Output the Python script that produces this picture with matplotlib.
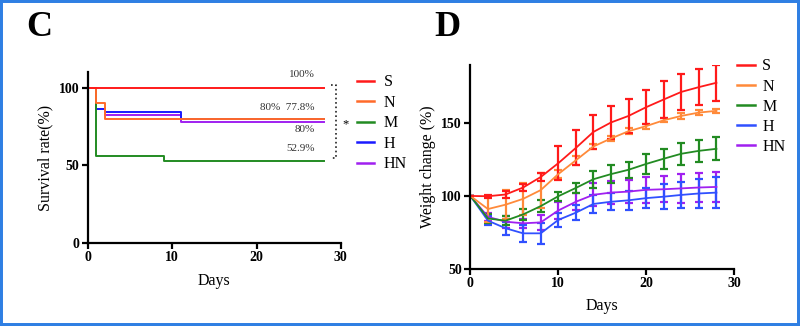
import numpy as np
import matplotlib
matplotlib.use("Agg")
import matplotlib.pyplot as plt
from matplotlib.lines import Line2D
from matplotlib.patches import Rectangle

plt.rcParams["font.family"] = ["Liberation Serif", "DejaVu Serif"]

GROUPS = ["S", "N", "M", "H", "HN"]
COLORS_C = ["#FF1A1A", "#FF6A2A", "#228B22", "#1A1AFF", "#A020F0"]
COLORS_D = ["#FF1A1A", "#FF8A3A", "#228B22", "#3050FF", "#A020F0"]

# survival (Kaplan-Meier steps)
surv_t = {
    "S":  [0, 28],
    "N":  [0, 1, 2, 28],
    "M":  [0, 1, 9, 28],
    "H":  [0, 1, 2, 11, 28],
    "HN": [0, 1, 2, 11, 28],
}
surv_v = {
    "S":  [100, 100],
    "N":  [100, 90, 80, 80],
    "M":  [100, 56, 52.9, 52.9],
    "H":  [100, 86.5, 84.5, 80, 80],
    "HN": [100, 86.5, 82.5, 77.8, 77.8],
}
surv_labels = ["100%", "80%  77.8%", "80%", "52.9%"]
surv_label_y = [108.4, 87.3, 72.9, 60.6]

# weight change
days = [0, 2, 4, 6, 8, 10, 12, 14, 16, 18, 20, 22, 24, 26, 28]
w_mean = {
    "S":  [100, 99.8, 101, 105.8, 113, 122.5, 133, 144, 150.5, 155, 161, 166.3, 171.5, 174.8, 177.8],
    "N":  [100, 91, 94, 98, 104, 115, 124.5, 134, 139.5, 144.5, 148, 152, 155, 157.3, 158.5],
    "M":  [100, 84.5, 83, 87.3, 93, 99.8, 105.5, 111.5, 115, 118, 122, 125.6, 129, 131, 132.4],
    "H":  [100, 83, 77.8, 74.3, 74.3, 83.5, 88.5, 94.5, 96, 97, 98.5, 99.5, 100.7, 101.7, 102.3],
    "HN": [100, 85.6, 82.3, 81.2, 81.8, 90, 96, 100.8, 102.3, 103, 104.2, 104.6, 105.2, 105.8, 106.2],
}
w_err = {
    "S":  [0, 1, 2.5, 2.7, 3, 11.8, 12, 11.6, 11.5, 11.8, 11.6, 12.6, 12.5, 12.5, 12.3],
    "N":  [0, 9, 10, 11, 12, 3, 3, 2, 2, 2, 1.7, 1.5, 2, 2, 1.6],
    "M":  [0, 3, 3, 4, 4, 3, 3.4, 5.7, 6.3, 5.6, 7, 6.8, 7.6, 7.6, 8],
    "H":  [0, 3, 4.5, 6, 7, 5, 5, 6, 6, 6.5, 7, 8.5, 9, 10, 10.5],
    "HN": [0, 3, 4, 3, 5, 6, 6, 8, 8, 8, 9, 9, 10, 10, 10.5],
}

fig = plt.figure(figsize=(8, 3.26), dpi=100)
fig.patches.append(Rectangle((0, 0), 1, 1, transform=fig.transFigure,
                             fill=False, edgecolor="#2F7FE3", linewidth=4.3))


def style_axes(ax):
    ax.spines["top"].set_visible(False)
    ax.spines["right"].set_visible(False)
    for s in ("left", "bottom"):
        ax.spines[s].set_linewidth(1.6)
    ax.tick_params(width=1.6, length=4, labelsize=10, pad=2)
    for lab in ax.get_xticklabels() + ax.get_yticklabels():
        lab.set_fontweight("bold")


# ---- panel C ----
axc = fig.add_axes([0.110, 0.2546, 0.316, 0.5245])
for g in ["HN", "H", "M", "N", "S"]:
    i = GROUPS.index(g)
    axc.step(surv_t[g], surv_v[g], where="post", color=COLORS_C[i], lw=1.4)
axc.set_xlim(0, 30)
axc.set_ylim(0, 110)
axc.set_xticks([0, 10, 20, 30])
axc.set_yticks([0, 50, 100])
style_axes(axc)
axc.set_xlabel("Days", fontsize=11.5, labelpad=6)
axc.set_ylabel("Survival rate(%)", fontsize=11.5, labelpad=4)
for txt, y in zip(surv_labels, surv_label_y):
    axc.text(26.9, y, txt, ha="right", va="center", fontsize=8, color="#333333")
axc.plot([28.8, 29.4, 29.4, 28.8], [101.9, 101.9, 54.8, 54.8], ls=":",
         color="#222222", lw=1.2, clip_on=False)
axc.text(30.6, 76.5, "*", ha="center", va="center", fontsize=9, clip_on=False)

hc = [Line2D([], [], color=c, lw=1.8) for c in COLORS_C]
fig.legend(hc, GROUPS, loc="upper left", bbox_to_anchor=(0.446, 0.772),
           frameon=False, fontsize=11.5, handlelength=1.1, handletextpad=0.6,
           labelspacing=0.28, borderaxespad=0, borderpad=0)
fig.text(0.033, 0.915, "C", fontsize=26, fontweight="bold", va="center", ha="left")

# ---- panel D ----
axd = fig.add_axes([0.588, 0.1758, 0.3295, 0.6248])
for g in ["HN", "H", "M", "N", "S"]:
    i = GROUPS.index(g)
    axd.errorbar(days, w_mean[g], yerr=w_err[g], color=COLORS_D[i], lw=1.3,
                 elinewidth=1.6, capsize=3, capthick=1.6)
axd.set_xlim(0, 30)
axd.set_ylim(50, 190)
axd.set_xticks([0, 10, 20, 30])
axd.set_yticks([50, 100, 150])
style_axes(axd)
axd.set_xlabel("Days", fontsize=11.5, labelpad=6)
axd.set_ylabel("Weight change (%)", fontsize=11.5, labelpad=4)

hd = [Line2D([], [], color=c, lw=1.8) for c in COLORS_D]
fig.legend(hd, GROUPS, loc="upper left", bbox_to_anchor=(0.921, 0.821),
           frameon=False, fontsize=11.5, handlelength=1.15, handletextpad=0.45,
           labelspacing=0.26, borderaxespad=0, borderpad=0)
fig.text(0.543, 0.915, "D", fontsize=26, fontweight="bold", va="center", ha="left")

fig.savefig("out.png", dpi=100)
